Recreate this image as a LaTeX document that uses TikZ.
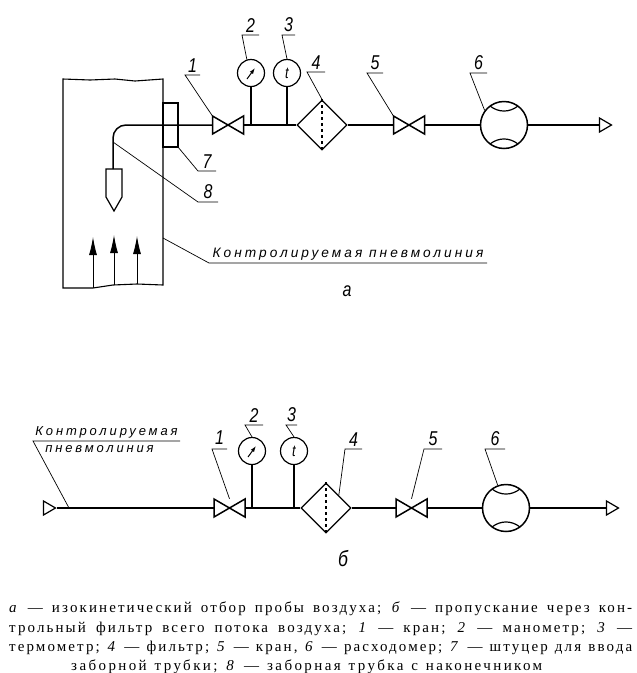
\documentclass[tikz,border=0pt]{standalone}
\usepackage{fontspec}
\setmainfont[LetterSpace=14]{Liberation Serif}
\newfontfamily\drawfont[LetterSpace=22]{Liberation Sans}
\newfontfamily\numfont[FakeStretch=0.8]{Liberation Sans}
\usepackage{tikz}
\usetikzlibrary{arrows.meta}
\usetikzlibrary{calc}
\usetikzlibrary{shapes.geometric}
\usetikzlibrary{positioning}
\newcommand{\valvecell}{\draw[pipe,line join=miter] (-15.5,-9) -- (-15.5,9) -- (15.5,-9) -- (15.5,9) -- cycle;}
\newcommand{\metercell}{\draw[thinpipe] (-14,-19) to[bend right=38] (14,-19);
					\draw[thinpipe] (-14,19) to[bend left=38] (14,19);}
\tikzset{
	pipe/.style={line width=1.5pt},
	thinpipe/.style={line width=1.2pt},
	leader/.style={line width=0.7pt},
	valve/.style={minimum width=31pt,minimum height=18pt,inner sep=0pt},
	gauge/.style={draw,circle,line width=1.2pt,minimum size=27pt,inner sep=0pt,font=\numfont\itshape\fontsize{16}{16}\selectfont},
	filter/.style={draw,diamond,line width=1.3pt,minimum size=50pt,inner sep=0pt},
	meter/.style={draw,circle,line width=1.5pt,minimum size=47pt,inner sep=0pt},
	endtip/.style={draw,isosceles triangle,isosceles triangle stretches,line width=1.2pt,minimum height=12pt,minimum width=14pt,inner sep=0pt},
	num/.style={anchor=south,inner xsep=0pt,inner ysep=3pt,outer sep=0pt,font=\numfont\itshape\fontsize{20}{20}\selectfont},
	word/.style={anchor=south,inner xsep=0pt,inner ysep=2.5pt,outer sep=0pt,font=\drawfont\itshape\fontsize{13.7}{13.7}\selectfont},
	flow/.style={line width=0.9pt,-{Latex[length=18pt,width=8pt]}}
}

\begin{document}
\begin{tikzpicture}[x=1pt,y=-1pt]
	\useasboundingbox (0,0) rectangle (637,673);

	% upper scheme
	\draw[line width=1.1pt] (63,79) -- (90,80) -- (115,79) -- (135,81) -- (163,79) -- (163,285) -- (137,284) -- (113,285) -- (93,288) -- (63,288) -- cycle;
	\node[draw,line width=1.1pt,minimum width=15pt,minimum height=44pt,inner sep=0pt,outer sep=0pt] (fitA) at (170.5,125) {};

	\node[valve] (valveA) at (228,125) {};
	\begin{scope}[shift={(valveA)}]
		\valvecell
	\end{scope}
	\node[gauge] (gaugeA) at (251,73) {};
	\draw[line width=1pt,-{Latex[length=6pt,width=4pt]}] ($(gaugeA)+(-4,6)$) -- ($(gaugeA)+(4,-5)$);
	\node[gauge] (gaugeB) at (287,73) {t};
	\node[filter] (filterA) at (322,125) {};
	\draw[thinpipe,dashed] (filterA.north) -- (filterA.south);
	\node[valve] (valveB) at (409,125) {};
	\begin{scope}[shift={(valveB)}]
		\valvecell
	\end{scope}
	\node[meter] (meterA) at (504,125) {};
	\begin{scope}[shift={(meterA)}]
		\metercell
	\end{scope}
	\node[endtip] (tipA) at (603.5,125) {};

	\coordinate (probeA) at (113,169);
	\coordinate (probeB) at (113,142);
	\coordinate (lineA) at (251,125);
	\coordinate (lineB) at (287,125);
	\coordinate (ductA) at (163,238);
	\draw[pipe,rounded corners=13pt] (probeA) |- (valveA.west);
	\draw[thinpipe,line join=miter] (106,169) -- (122,169) -- (122,197) -- (114,211) -- (106,197) -- cycle;
	\draw[pipe] (valveA.east) -- (filterA.west);
	\draw[pipe] (gaugeA.south) -- (lineA);
	\draw[pipe] (gaugeB.south) -- (lineB);
	\draw[pipe] (filterA.east) -- (valveB.west);
	\draw[pipe] (valveB.east) -- (meterA.west);
	\draw[pipe] (meterA.east) -- (tipA.west);

	\draw[flow] (93,288) -- (93,237);
	\draw[flow] (114,285) -- (114,235);
	\draw[flow] (137,284) -- (137,236);

	\node[num,minimum width=15pt] (numA) at (192.5,75) {1};
	\node[num,minimum width=17pt] (numB) at (250.5,35) {2};
	\node[num,minimum width=13pt] (numC) at (288.5,35) {3};
	\node[num,minimum width=18pt] (numD) at (316,72) {4};
	\node[num,minimum width=16pt] (numE) at (375,73) {5};
	\node[num,minimum width=17pt] (numF) at (478.5,73) {6};
	\node[num,minimum width=18pt] (numG) at (207,171) {7};
	\node[num,minimum width=20pt] (numH) at (208,202) {8};
	\node[word,minimum width=278pt] (wordA) at (348,263) {Контролируемая пневмолиния};
	\draw[leader] (valveA.north west) -- (numA.south west) -- (numA.south east);
	\draw[leader] (gaugeA.107) -- (numB.south west) -- (numB.south east);
	\draw[leader] (gaugeB.north) -- (numC.south west) -- (numC.south east);
	\draw[leader] (filterA.north) -- (numD.south west) -- (numD.south east);
	\draw[leader] (valveB.north west) -- (numE.south west) -- (numE.south east);
	\draw[leader] (meterA.143) -- (numF.south west) -- (numF.south east);
	\draw[leader] (fitA.south east) -- (numG.south west) -- (numG.south east);
	\draw[leader] (probeB) -- (numH.south west) -- (numH.south east);
	\draw[leader] (ductA) -- (wordA.south west) -- (wordA.south east);
	\node[font=\numfont\itshape\fontsize{20}{20}\selectfont] (capA) at (347,291) {а};

	% lower scheme
	\node[endtip] (tipB) at (47.5,508) {};
	\node[valve] (valveC) at (229.5,508) {};
	\begin{scope}[shift={(valveC)}]
		\valvecell
	\end{scope}
	\node[gauge] (gaugeC) at (252,451) {};
	\draw[line width=1pt,-{Latex[length=6pt,width=4pt]}] ($(gaugeC)+(-4,6)$) -- ($(gaugeC)+(4,-5)$);
	\node[gauge] (gaugeD) at (294,451) {t};
	\node[filter] (filterB) at (326,508) {};
	\draw[thinpipe,dashed] (filterB.north) -- (filterB.south);
	\node[valve] (valveD) at (411.5,508) {};
	\begin{scope}[shift={(valveD)}]
		\valvecell
	\end{scope}
	\node[meter] (meterB) at (506,508) {};
	\begin{scope}[shift={(meterB)}]
		\metercell
	\end{scope}
	\node[endtip] (tipC) at (610.5,508) {};

	\coordinate (lineC) at (69,508);
	\coordinate (lineD) at (252,508);
	\coordinate (lineE) at (294,508);
	\draw[pipe] (tipB.east) -- (valveC.west);
	\draw[pipe] (valveC.east) -- (filterB.west);
	\draw[pipe] (gaugeC.south) -- (lineD);
	\draw[pipe] (gaugeD.south) -- (lineE);
	\draw[pipe] (filterB.east) -- (valveD.west);
	\draw[pipe] (valveD.east) -- (meterB.west);
	\draw[pipe] (meterB.east) -- (tipC.west);

	\node[num,minimum width=15pt,inner ysep=5pt] (numI) at (219.5,449) {1};
	\node[num,minimum width=18pt] (numJ) at (254,425) {2};
	\node[num,minimum width=11pt] (numK) at (291.5,425) {3};
	\node[num,minimum width=17pt] (numL) at (353.5,449) {4};
	\node[num,minimum width=18pt] (numM) at (433,449) {5};
	\node[num,minimum width=20pt] (numN) at (495,449) {6};
	\node[word,minimum width=147pt,font=\drawfont\itshape\fontsize{13}{13}\selectfont] (wordB) at (106.5,441) {Контролируемая};
	\node[font=\drawfont\itshape\fontsize{13}{13}\selectfont,below=1pt of wordB,xshift=-7pt] (wordC) {пневмолиния};
	\draw[leader] (valveC.north) -- (numI.south west) -- (numI.south east);
	\draw[leader] (gaugeC.north) -- (numJ.south west) -- (numJ.south east);
	\draw[leader] (gaugeD.north) -- (numK.south west) -- (numK.south east);
	\draw[leader] (filterB.45) -- (numL.south west) -- (numL.south east);
	\draw[leader] (valveD.north) -- (numM.south west) -- (numM.south east);
	\draw[leader] (meterB.110) -- (numN.south west) -- (numN.south east);
	\draw[leader] (lineC) -- (wordB.south west) -- (wordB.south east);
	\node[font=\numfont\itshape\fontsize{22}{22}\selectfont] (capB) at (343,559) {б};

	% caption
	\node[anchor=north west,inner sep=0pt,align=left,font=\fontsize{15}{19.3}\selectfont] (textA) at (9,602) {%
		\makebox[623pt][s]{\textit{а} --- изокинетический отбор пробы воздуха; \textit{б} --- пропускание через кон-}\\
		\makebox[623pt][s]{трольный фильтр всего потока воздуха; \textit{1} --- кран; \textit{2} --- манометр; \textit{3} ---}\\
		\makebox[623pt][s]{термометр; \textit{4} --- фильтр; \textit{5} --- кран, \textit{6} --- расходомер; \textit{7} --- штуцер для ввода}\\
		\hspace*{62pt}\makebox[471pt][s]{\addfontfeature{LetterSpace=16}заборной трубки; \textit{8} --- заборная трубка с наконечником}};
\end{tikzpicture}
\end{document}
